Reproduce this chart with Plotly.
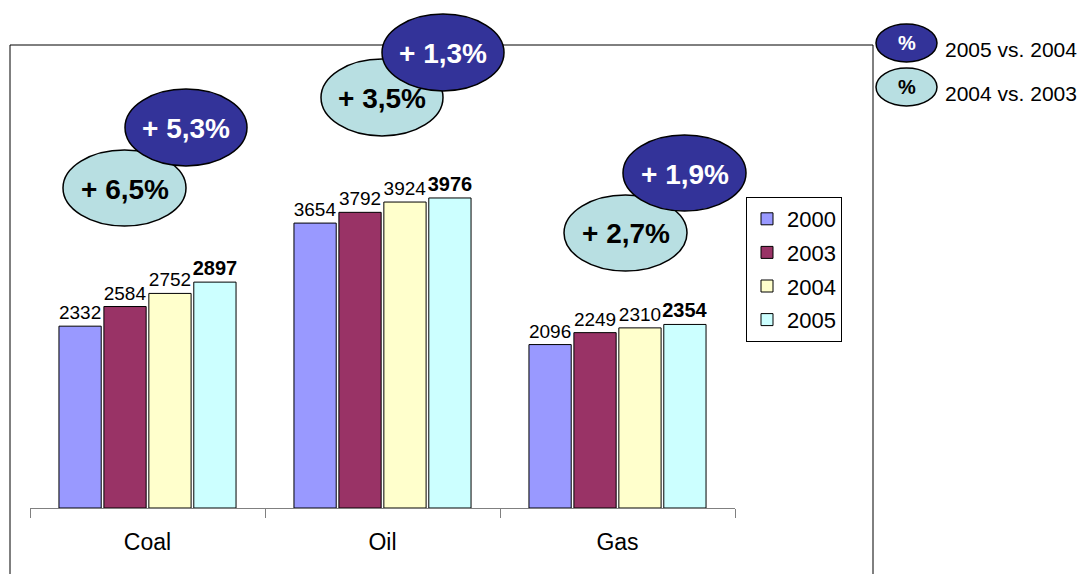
import plotly.graph_objects as go

categories = ["Coal", "Oil", "Gas"]
years = ["2000", "2003", "2004", "2005"]
v2000 = [2332, 3654, 2096]
v2003 = [2584, 3792, 2249]
v2004 = [2752, 3924, 2310]
v2005 = [2897, 3976, 2354]
chg_05_vs_04 = ["+ 5,3%", "+ 1,3%", "+ 1,9%"]
chg_04_vs_03 = ["+ 6,5%", "+ 3,5%", "+ 2,7%"]
key_labels = ["2005 vs. 2004", "2004 vs. 2003"]

colors = ["#9999FF", "#993366", "#FFFFCC", "#CCFFFF"]
DARK = "#333399"
LIGHT = "#B8DFE2"
FONT = "Liberation Sans, Arial, sans-serif"

OFF = 8  # page body margin
W, H = 1086 - OFF, 574 - OFF
# plot area in reference pixels
PX0, PX1, PY0, PY1 = 30, 735, 45, 508
PW, PH = PX1 - PX0, PY1 - PY0
L, T = PX0 - OFF, PY0 - OFF
R, B = W - (PX1 - OFF), H - (PY1 - OFF)


def px(x):
    return (x - PX0) / PW


def py(y):
    return (PY1 - y) / PH


fig = go.Figure()
series = [v2000, v2003, v2004, v2005]
for i, (yr, vals) in enumerate(zip(years, series)):
    bold = i == 3
    fig.add_trace(go.Bar(
        name=yr, x=categories, y=vals,
        marker=dict(color=colors[i], line=dict(color="black", width=1)),
        text=vals,
        texttemplate="<b>%{y}</b>" if bold else "%{y}",
        textposition="outside",
        textfont=dict(family=FONT, size=20 if bold else 19, color="black"),
        constraintext="none",
        cliponaxis=False,
        legendgroup=yr,
    ))

shapes = []
shapes.append(dict(type="rect", xref="paper", yref="paper",
                   x0=px(10), x1=px(873), y0=py(620), y1=py(45),
                   line=dict(color="black", width=1), layer="below"))

light_boxes = [(63, 186, 150, 226), (321, 443, 59, 136), (564, 687, 195, 271)]
dark_boxes = [(125, 247, 89, 166), (382, 504, 14, 91), (623, 746, 135, 211)]

annotations = []
for k in range(3):
    for box, fill, txt, tc in ((light_boxes[k], LIGHT, chg_04_vs_03[k], "black"),
                               (dark_boxes[k], DARK, chg_05_vs_04[k], "white")):
        x0, x1, yt, yb = box
        shapes.append(dict(type="circle", xref="paper", yref="paper",
                           x0=px(x0), x1=px(x1), y0=py(yb), y1=py(yt),
                           fillcolor=fill, line=dict(color="black", width=1.5),
                           layer="above"))
        annotations.append(dict(xref="paper", yref="paper",
                                x=px((x0 + x1) / 2), y=py((yt + yb) / 2 + 1),
                                xanchor="center", yanchor="middle",
                                text="<b>%s</b>" % txt, showarrow=False,
                                font=dict(family=FONT, size=28, color=tc)))

key_boxes = [(876, 937, 24, 62, DARK, "white"), (876, 937, 68, 106, LIGHT, "black")]
for (x0, x1, yt, yb, fill, tc), lab in zip(key_boxes, key_labels):
    shapes.append(dict(type="circle", xref="paper", yref="paper",
                       x0=px(x0), x1=px(x1), y0=py(yb), y1=py(yt),
                       fillcolor=fill, line=dict(color="black", width=1.5),
                       layer="above"))
    annotations.append(dict(xref="paper", yref="paper",
                            x=px((x0 + x1) / 2), y=py((yt + yb) / 2),
                            xanchor="center", yanchor="middle",
                            text="<b>%</b>", showarrow=False,
                            font=dict(family=FONT, size=20, color=tc)))
    annotations.append(dict(xref="paper", yref="paper",
                            x=px(943), y=py((yt + yb) / 2 + 6),
                            xanchor="left", yanchor="middle",
                            text=lab, showarrow=False,
                            font=dict(family=FONT, size=21, color="black")))

fig.update_layout(
    width=W, height=H,
    margin=dict(l=L, r=R, t=T, b=B, pad=0),
    paper_bgcolor="white", plot_bgcolor="white",
    barmode="group", bargap=0.235, bargroupgap=0.06,
    font=dict(family=FONT, color="black"),
    xaxis=dict(showline=True, linecolor="#808080", linewidth=1,
               ticks="outside", tickson="boundaries", ticklen=9,
               tickcolor="#808080", tickfont=dict(size=23, color="black"),
               ticklabelstandoff=13,
               showgrid=False, zeroline=False),
    yaxis=dict(range=[0, 5938], visible=False, showgrid=False, zeroline=False),
    legend=dict(x=px(746), y=py(197), xanchor="left", yanchor="top",
                bordercolor="black", borderwidth=1, bgcolor="white",
                font=dict(family=FONT, size=22, color="black"),
                traceorder="grouped", tracegroupgap=2,
                itemclick=False, itemdoubleclick=False),
    showlegend=True,
    shapes=shapes,
    annotations=annotations,
)

fig.write_html("out.html")
